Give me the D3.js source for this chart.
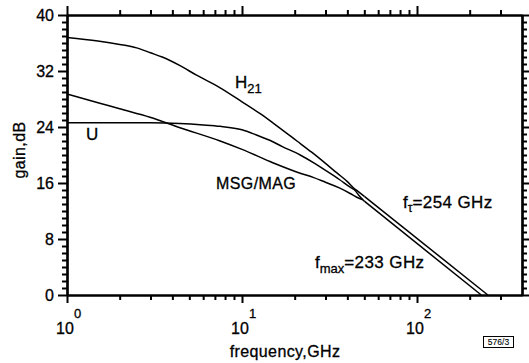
<html lang="en">
  <head>
    <meta charset="utf-8">
    <title>gain vs frequency</title>
    <script src="https://d3js.org/d3.v7.min.js"></script>
    <style>
      body { margin: 0; background: #fff; }
      text { font-family: "Liberation Sans", Arial, Helvetica, sans-serif; fill: #000; stroke: #000; stroke-width: 0.3; }
    </style>
  </head>
  <body>
    <script type="text/javascript">
      var w = 529;
      var h = 363;
      var margin = {top: 15, right: 7, bottom: 68, left: 67};

      // data
      var freqH21 = [1, 1.5, 2, 2.5, 3, 3.5, 4.4, 5.5, 7.5, 10, 12.7, 15, 20.6, 25, 30, 35, 40, 43, 46, 50];
      var gainH21 = [36.8, 36.3, 35.8, 35.3, 34.6, 34.0, 32.8, 31.4, 29.6, 27.6, 25.9, 24.6, 22.0, 20.4, 18.8, 17.4, 16.2, 15.4, 14.8, 14.1];
      var freqU = [1, 2, 3, 4.4, 6, 7.5, 10, 12, 14.4, 17, 21.5, 26, 30, 36, 41.5, 44, 47, 50];
      var gainU = [24.6, 24.6, 24.6, 24.5, 24.3, 24.1, 23.6, 22.9, 22.1, 21.2, 20.0, 18.8, 17.8, 16.5, 15.4, 15.0, 14.1, 13.4];
      var freqMSG = [1, 1.54, 2, 2.98, 4.42, 7.5, 10, 15, 21.5, 25.5, 30, 36, 41.5, 45, 49];
      var gainMSG = [28.7, 27.4, 26.6, 25.4, 23.9, 22.0, 20.8, 18.9, 17.4, 16.8, 16.1, 15.3, 14.5, 14.0, 13.6];
      // -20 dB/decade extrapolations to fT and fmax
      var freqFt = [50, 254];
      var gainFt = [14.1, 0];
      var freqFmax = [50, 233];
      var gainFmax = [13.4, 0];

      var yTicks = [0, 8, 16, 24, 32, 40];
      var xDecades = [1, 10, 100];
      var xExponents = ["0", "1", "2"];

      var x = d3.scaleLog()
                .domain([1, Math.pow(10, 2.6)])
                .range([margin.left, w - margin.right]);
      var y = d3.scaleLinear()
                .domain([0, 40])
                .range([h - margin.bottom, margin.top]);

      var xMinor = [];
      [1, 10, 100].forEach(function (d) {
        for (var k = 2; k <= 9; k++) { if (d * k <= x.domain()[1]) xMinor.push(d * k); }
      });
      var yMinor = d3.range(0, 41, 1).filter(function (d) { return d % 8 !== 0; });

      var svg = d3.select("body")
                  .append("svg")
                  .attr("width", w)
                  .attr("height", h);

      function styleAxis(g) {
        g.select(".domain").attr("stroke", "#000").attr("stroke-width", 2.2);
        g.selectAll(".tick line").attr("stroke", "#000").attr("stroke-width", 2);
      }

      var x0 = margin.left, x1 = w - margin.right;
      var y0 = h - margin.bottom, y1 = margin.top;

      // bottom
      svg.append("g").attr("transform", `translate(0, ${y0})`)
         .call(d3.axisBottom(x).tickValues(xMinor).tickSize(5).tickSizeOuter(0).tickFormat(""))
         .call(styleAxis);
      svg.append("g").attr("transform", `translate(0, ${y0})`)
         .call(d3.axisBottom(x).tickValues(xDecades).tickSize(8).tickSizeOuter(0).tickFormat(""))
         .call(styleAxis);
      // top
      svg.append("g").attr("transform", `translate(0, ${y1})`)
         .call(d3.axisTop(x).tickValues(xMinor).tickSize(5).tickSizeOuter(0).tickFormat(""))
         .call(styleAxis);
      svg.append("g").attr("transform", `translate(0, ${y1})`)
         .call(d3.axisTop(x).tickValues(xDecades).tickSize(9).tickSizeOuter(0).tickFormat(""))
         .call(styleAxis);
      // left
      svg.append("g").attr("transform", `translate(${x0}, 0)`)
         .call(d3.axisLeft(y).tickValues(yMinor).tickSize(5).tickSizeOuter(0).tickFormat(""))
         .call(styleAxis);
      var yAx = svg.append("g").attr("transform", `translate(${x0}, 0)`)
         .call(d3.axisLeft(y).tickValues(yTicks).tickSize(9).tickPadding(4).tickSizeOuter(0))
         .call(styleAxis);
      yAx.selectAll("text").attr("font-size", 16).attr("font-family", null).attr("dy", "0.36em");
      // right
      svg.append("g").attr("transform", `translate(${x1}, 0)`)
         .call(d3.axisRight(y).tickValues(yMinor).tickSize(5).tickSizeOuter(0).tickFormat(""))
         .call(styleAxis);
      svg.append("g").attr("transform", `translate(${x1}, 0)`)
         .call(d3.axisRight(y).tickValues(yTicks).tickSize(7).tickSizeOuter(0).tickFormat(""))
         .call(styleAxis);

      // x tick labels 10^n
      xDecades.forEach(function (d, i) {
        svg.append("text")
           .attr("x", x(d) - 2).attr("y", 334)
           .attr("text-anchor", "middle").attr("font-size", 16)
           .text("10");
        svg.append("text")
           .attr("x", x(d) + 7).attr("y", 318)
           .attr("font-size", 13)
           .text(xExponents[i]);
      });

      // curves
      var line = d3.line()
                   .x(function (d) { return x(d[0]); })
                   .y(function (d) { return y(d[1]); })
                   .curve(d3.curveMonotoneX);
      function drawCurve(fs, gs) {
        svg.append("path")
           .datum(fs.map(function (f, i) { return [f, gs[i]]; }))
           .attr("d", line)
           .attr("fill", "none")
           .attr("stroke", "#000")
           .attr("stroke-width", 1.5);
      }
      drawCurve(freqH21, gainH21);
      drawCurve(freqU, gainU);
      drawCurve(freqMSG, gainMSG);
      drawCurve(freqFt, gainFt);
      drawCurve(freqFmax, gainFmax);

      // annotations
      var h21 = svg.append("text").attr("x", 235).attr("y", 88).attr("font-size", 17);
      h21.append("tspan").text("H");
      h21.append("tspan").attr("font-size", 13).attr("dy", 5).text("21");

      svg.append("text").attr("x", 86).attr("y", 140).attr("font-size", 17).text("U");
      svg.append("text").attr("x", 216).attr("y", 189).attr("font-size", 16)
         .attr("letter-spacing", 0.4).text("MSG/MAG");

      var ft = svg.append("text").attr("x", 403).attr("y", 208).attr("font-size", 17);
      ft.append("tspan").text("f");
      ft.append("tspan").attr("font-size", 12).attr("dy", 4).text("\u03c4");
      ft.append("tspan").attr("dy", -4).attr("letter-spacing", 0.4).text("=254 GHz");

      var fm = svg.append("text").attr("x", 315).attr("y", 268).attr("font-size", 17);
      fm.append("tspan").text("f");
      fm.append("tspan").attr("font-size", 13).attr("dy", 5).text("max");
      fm.append("tspan").attr("dy", -5).attr("letter-spacing", 0.4).text("=233 GHz");

      // axis titles
      svg.append("text")
         .attr("x", 285).attr("y", 357)
         .attr("text-anchor", "middle").attr("font-size", 16)
         .attr("letter-spacing", 0.4)
         .text("frequency,GHz");
      svg.append("text")
         .attr("transform", "translate(25, 150) rotate(-90)")
         .attr("text-anchor", "middle").attr("font-size", 16)
         .attr("letter-spacing", 0.4)
         .text("gain,dB");

      // figure tag
      svg.append("rect").attr("x", 483.5).attr("y", 336.5).attr("width", 30).attr("height", 11)
         .attr("fill", "none").attr("stroke", "#000").attr("stroke-width", 1);
      svg.append("text").attr("x", 498.5).attr("y", 345).attr("text-anchor", "middle")
         .attr("font-size", 8.5).style("stroke-width", 0.1).text("576/3");
    </script>
  </body>
</html>
